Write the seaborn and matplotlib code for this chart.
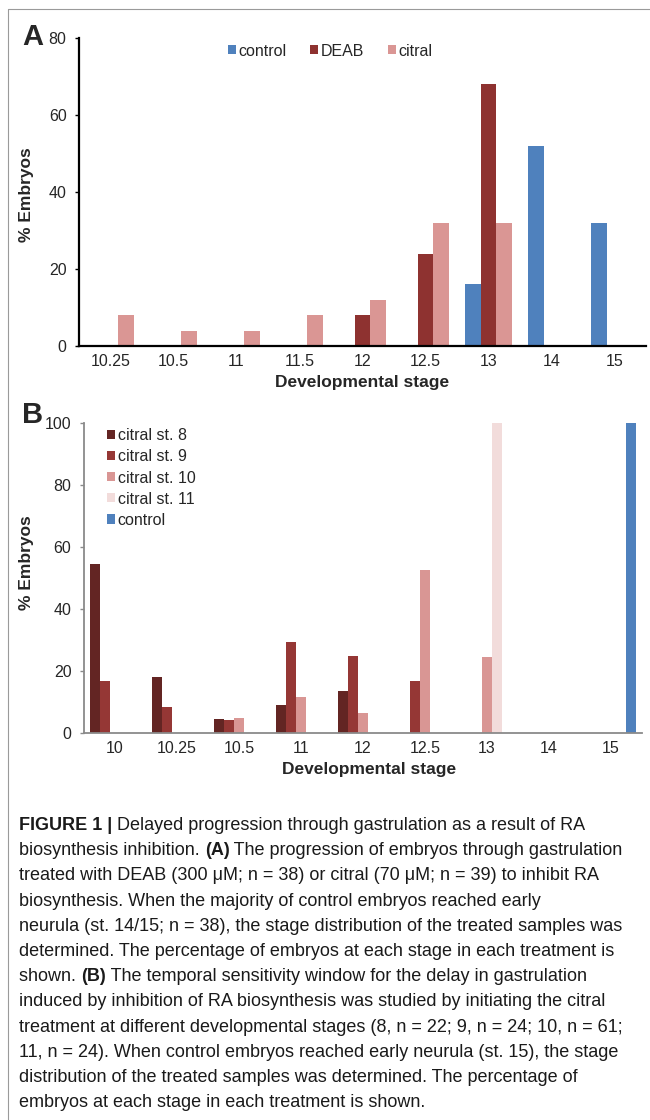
import matplotlib
matplotlib.use("Agg")
import matplotlib.pyplot as plt
import seaborn as sns
import pandas as pd
from matplotlib.lines import Line2D

# Panel A: Entwicklungsstadien und Anteil der Embryonen (%)
stages_a = ["10.25", "10.5", "11", "11.5", "12", "12.5", "13", "14", "15"]
control_a = [0, 0, 0, 0, 0, 0, 16, 52, 32]
deab_a = [0, 0, 0, 0, 8, 24, 68, 0, 0]
citral_a = [8, 4, 4, 8, 12, 32, 32, 0, 0]

# Panel B: Citral-Behandlung ab verschiedenen Stadien
stages_b = ["10", "10.25", "10.5", "11", "12", "12.5", "13", "14", "15"]
citral_st8 = [54.5, 18.2, 4.5, 9.1, 13.6, 0, 0, 0, 0]
citral_st9 = [16.7, 8.3, 4.2, 29.2, 25.0, 16.7, 0, 0, 0]
citral_st10 = [0, 0, 4.9, 11.5, 6.6, 52.5, 24.6, 0, 0]
citral_st11 = [0, 0, 0, 0, 0, 0, 100, 0, 0]
control_b = [0, 0, 0, 0, 0, 0, 0, 0, 100]

groups_a = {"control": control_a, "DEAB": deab_a, "citral": citral_a}
groups_b = {"citral st. 8": citral_st8, "citral st. 9": citral_st9,
            "citral st. 10": citral_st10, "citral st. 11": citral_st11,
            "control": control_b}
colors_a = ["#4F81BD", "#8E3230", "#DA9694"]
colors_b = ["#632523", "#953735", "#D99694", "#F2DCDB", "#4F81BD"]

caption = [
    [("FIGURE 1 |", True), (" Delayed progression through gastrulation as a result of RA", False)],
    [("biosynthesis inhibition. ", False), ("(A)", True), (" The progression of embryos through gastrulation", False)],
    [("treated with DEAB (300 \u03bcM; n = 38) or citral (70 \u03bcM; n = 39) to inhibit RA", False)],
    [("biosynthesis. When the majority of control embryos reached early", False)],
    [("neurula (st. 14/15; n = 38), the stage distribution of the treated samples was", False)],
    [("determined. The percentage of embryos at each stage in each treatment is", False)],
    [("shown. ", False), ("(B)", True), (" The temporal sensitivity window for the delay in gastrulation", False)],
    [("induced by inhibition of RA biosynthesis was studied by initiating the citral", False)],
    [("treatment at different developmental stages (8, n = 22; 9, n = 24; 10, n = 61;", False)],
    [("11, n = 24). When control embryos reached early neurula (st. 15), the stage", False)],
    [("distribution of the treated samples was determined. The percentage of", False)],
    [("embryos at each stage in each treatment is shown.", False)],
]


def long_form(stages, groups):
    rows = []
    for name, vals in groups.items():
        for s, v in zip(stages, vals):
            rows.append({"stage": s, "pct": v, "group": name})
    return pd.DataFrame(rows)


sns.set_style("white")
plt.rcParams["font.family"] = ["Liberation Sans", "DejaVu Sans"]

W, H = 650, 1120
fig = plt.figure(figsize=(6.5, 11.2), dpi=100)


def style_axes(ax, ymax, spine_color, spine_w):
    ax.set_xlim(-0.5, 8.5)
    ax.set_ylim(0, ymax)
    ax.set_yticks(range(0, ymax + 1, 20))
    sns.despine(ax=ax)
    for side in ["left", "bottom"]:
        ax.spines[side].set_color(spine_color)
        ax.spines[side].set_linewidth(spine_w)
    ax.set_xticks([i - 0.5 for i in range(10)], minor=True)
    ax.tick_params(axis="x", which="major", length=0, pad=6, labelsize=11.5)
    ax.tick_params(axis="x", which="minor", length=4, width=1, direction="out",
                   color=spine_color)
    ax.tick_params(axis="y", length=3, width=1, direction="out", pad=6,
                   labelsize=11.5, color=spine_color, left=True)
    ax.set_xlabel("Developmental stage", fontsize=12.5, fontweight="bold")
    ax.set_ylabel("% Embryos", fontsize=12.5, fontweight="bold")


# ---- Panel A ----
axA = fig.add_axes([79 / W, 1 - 346 / H, 567 / W, 308 / H])
dfa = long_form(stages_a, groups_a)
sns.barplot(data=dfa, x="stage", y="pct", hue="group", order=stages_a,
            hue_order=list(groups_a), palette=colors_a, width=0.75,
            saturation=1, linewidth=0, ax=axA)
style_axes(axA, 80, "black", 1.6)
axA.xaxis.set_label_coords(0.5, -0.095)
axA.yaxis.set_label_coords(-0.079, 0.49)
h, l = axA.get_legend_handles_labels()
axA.legend(h, l, ncol=3, frameon=False, fontsize=11.5, loc="center",
           bbox_to_anchor=(330 / W, 1 - 51 / H), bbox_transform=fig.transFigure,
           handlelength=0.5, handleheight=0.5, handletextpad=0.15,
           columnspacing=1.5)

# ---- Panel B ----
axB = fig.add_axes([84 / W, 1 - 733 / H, 558 / W, 310 / H])
dfb = long_form(stages_b, groups_b)
sns.barplot(data=dfb, x="stage", y="pct", hue="group", order=stages_b,
            hue_order=list(groups_b), palette=colors_b, width=0.8,
            saturation=1, linewidth=0, ax=axB)
style_axes(axB, 100, "#8a8a8a", 1.3)
axB.xaxis.set_label_coords(0.51, -0.094)
axB.yaxis.set_label_coords(-0.09, 0.55)
h, l = axB.get_legend_handles_labels()
axB.legend(h, l, ncol=1, frameon=False, fontsize=11.5, loc="upper left",
           bbox_to_anchor=(101 / W, 1 - 422 / H), bbox_transform=fig.transFigure,
           handlelength=0.5, handleheight=0.5, handletextpad=0.15,
           labelspacing=0.38, borderaxespad=0)

# Panel-Buchstaben
fig.text(22 / W, 1 - 45 / H, "A", fontsize=21, fontweight="bold", va="baseline")
fig.text(22 / W, 1 - 423 / H, "B", fontsize=21, fontweight="bold", va="baseline")

# Rahmenlinie links und oben
fig.add_artist(Line2D([8 / W, 8 / W, 1], [0, 1 - 9 / H, 1 - 9 / H],
                      transform=fig.transFigure, color="#9a9a9a", lw=0.8))

# Bildunterschrift mit fetten Teilen
renderer = fig.canvas.get_renderer()
for i, line in enumerate(caption):
    x = 19 / W
    y = 1 - (830 + 25.2 * i) / H
    for text, bold in line:
        t = fig.text(x, y, text, fontsize=13, va="baseline",
                     fontweight="bold" if bold else "normal", color="#1a1a1a")
        x += t.get_window_extent(renderer).width / W

fig.savefig("out.png", dpi=100)
